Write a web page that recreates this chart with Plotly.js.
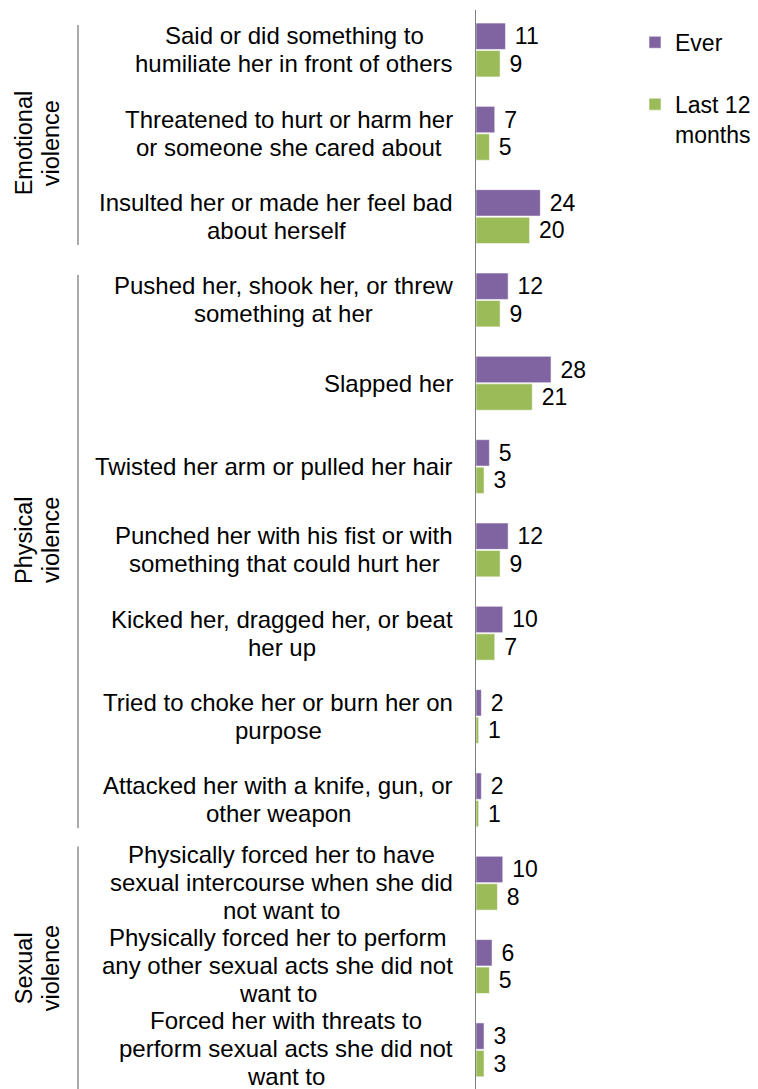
<!DOCTYPE html>
<html><head><meta charset="utf-8">
<script src="https://cdn.plot.ly/plotly-3.0.1.min.js"></script>
<style>html,body{margin:0;padding:0;background:#fff}#chart{width:758px;height:1089px}</style>
</head><body><div id="chart"></div>
<script>
var categories = [
"Said or did something to<br>humiliate her in front of others",
"Threatened to hurt or harm her<br>or someone she cared about",
"Insulted her or made her feel bad<br>about herself",
"Pushed her, shook her, or threw<br>something at her",
"Slapped her",
"Twisted her arm or pulled her hair",
"Punched her with his fist or with<br>something that could hurt her",
"Kicked her, dragged her, or beat<br>her up",
"Tried to choke her or burn her on<br>purpose",
"Attacked her with a knife, gun, or<br>other weapon",
"Physically forced her to have<br>sexual intercourse when she did<br>not want to",
"Physically forced her to perform<br>any other sexual acts she did not<br>want to",
"Forced her with threats to<br>perform sexual acts she did not<br>want to"
];
var ever = [11,7,24,12,28,5,12,10,2,2,10,6,3];
var last12 = [9,5,20,9,21,3,9,7,1,1,8,5,3];
var seriesNames = ["Ever","Last 12<br>months"];
var groupNames = ["Emotional<br>violence","Physical<br>violence","Sexual<br>violence"];

var FONT = '"Liberation Sans", Arial, sans-serif';
var ML = 476, PW = 758 - ML;
function px2paper(px){ return (px - ML)/PW; }

var canvas = document.createElement('canvas');
var ctx = canvas.getContext('2d');
ctx.font = '24px "Liberation Sans"';

var annotations = [];
categories.forEach(function(c){
  var lines = c.split('<br>');
  var maxW = 0;
  lines.forEach(function(l){ maxW = Math.max(maxW, ctx.measureText(l).width); });
  var n = lines.length;
  lines.forEach(function(l, j){
    annotations.push({
      x: 0, xref: 'x', y: c, yref: 'y', text: l, showarrow: false,
      xanchor: 'center', yanchor: 'middle',
      xshift: -(23 + maxW/2), yshift: ((n-1)/2 - j)*28 + (n === 3 ? 1 : 0),
      font: {family: FONT, size: 24, color: '#000'}
    });
  });
});

var groupCenters = [1.12, 5.88, 11.02];
var groupLines = [[-0.3, 2.34], [2.7, 9.34], [9.56, 12.6]];
var shapes = [];
groupNames.forEach(function(g, k){
  var lines = g.split('<br>');
  lines.forEach(function(l, j){
    annotations.push({
      x: px2paper(24 + j*27), xref: 'paper', y: groupCenters[k], yref: 'y',
      text: l, showarrow: false, textangle: -90,
      xanchor: 'center', yanchor: 'middle',
      font: {family: FONT, size: 23.5, color: '#000'}
    });
  });
  shapes.push({
    type: 'line', xref: 'paper', yref: 'y',
    x0: px2paper(78), x1: px2paper(78),
    y0: groupLines[k][0], y1: groupLines[k][1],
    line: {color: '#555', width: 1}
  });
});

var traces = [
  {type:'bar', orientation:'h', name: seriesNames[0], y: categories, x: ever,
   marker:{color:'#8064A2', line:{color:'rgba(255,255,255,0.55)', width:1}},
   text: ever.map(String), texttemplate: '\u00a0%{x}', textposition:'outside',
   textfont:{family:FONT, size:23, color:'#000'}, cliponaxis:false,
   legendgroup:'a', hoverinfo:'x'},
  {type:'bar', orientation:'h', name: seriesNames[1], y: categories, x: last12,
   marker:{color:'#9BBB59', line:{color:'rgba(255,255,255,0.55)', width:1}},
   text: last12.map(String), texttemplate: '\u00a0%{x}', textposition:'outside',
   textfont:{family:FONT, size:23, color:'#000'}, cliponaxis:false,
   legendgroup:'b', hoverinfo:'x'}
];

var layout = {
  width: 758, height: 1089,
  margin: {l: ML, r: 0, t: 10, b: 0, pad: 0},
  paper_bgcolor: '#fff', plot_bgcolor: 'rgba(0,0,0,0)',
  font: {family: FONT, size: 23, color: '#000'},
  barmode: 'group', bargap: 0.34, bargroupgap: 0.04,
  xaxis: {range: [0, PW/2.68], visible: false, fixedrange: true},
  yaxis: {type: 'category', range: [12.47, -0.48], showticklabels: false,
          ticks: '', showgrid: false, zeroline: false,
          showline: true, linecolor: '#7f7f7f', linewidth: 1.3, fixedrange: true},
  showlegend: true,
  legend: {x: px2paper(635), xanchor: 'left', y: 0.99, yanchor: 'top',
           font: {family: FONT, size: 23, color: '#000'},
           valign: 'top', tracegroupgap: 29, bgcolor: 'rgba(0,0,0,0)'},
  annotations: annotations,
  shapes: shapes
};

Plotly.newPlot('chart', traces, layout, {displayModeBar: false, staticPlot: true});
</script>
</body></html>
